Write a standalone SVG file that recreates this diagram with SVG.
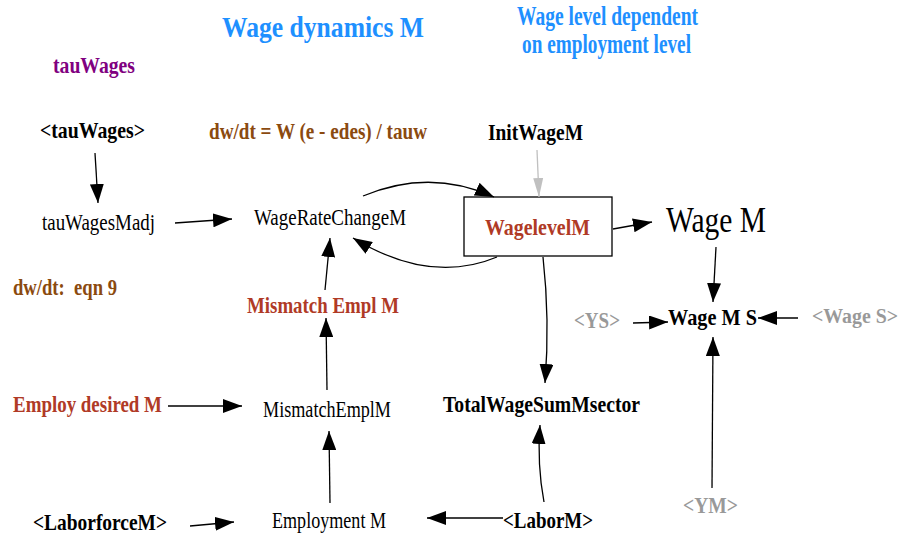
<svg xmlns="http://www.w3.org/2000/svg" width="902" height="538" viewBox="0 0 902 538">
<defs>
<marker id="ah" markerUnits="userSpaceOnUse" markerWidth="20" markerHeight="14" refX="19" refY="7" orient="auto"><path d="M0,0 L19,7 L0,14 z" fill="#000"/></marker>
<marker id="ahg" markerUnits="userSpaceOnUse" markerWidth="20" markerHeight="14" refX="19" refY="7" orient="auto"><path d="M0,2 L19,7 L0,12 z" fill="#c0c0c0"/></marker>
<style>
text{font-family:"Liberation Serif","Times New Roman",serif;}
.b{font-weight:bold;font-size:24px;}
.n{font-size:24px;fill:#000;}
.s{font-size:23px;}
.blue{fill:#1e90ff;}
.red{fill:#b03a26;}
.brown{fill:#8b4a0f;}
.gray{fill:#999999;}
.purple{fill:#800080;}
.blk{fill:#000;}
.c{fill:none;stroke:#000;stroke-width:1.3;marker-end:url(#ah);}
.cg{fill:none;stroke:#c0c0c0;stroke-width:1.3;marker-end:url(#ahg);}
</style>
</defs>
<rect width="902" height="538" fill="#fff"/>
<g id="title"><text x="222" y="37" class="b blue" style="font-size:29px" textLength="202" lengthAdjust="spacingAndGlyphs">Wage dynamics M</text></g>
<g id="note-dependent">
<text x="517" y="25" class="b blue" style="font-size:27px" textLength="181" lengthAdjust="spacingAndGlyphs">Wage level dependent</text>
<text x="522" y="53" class="b blue" style="font-size:27px" textLength="169" lengthAdjust="spacingAndGlyphs">on employment level</text>
</g>
<g id="tauWages-label"><text x="53" y="73" class="b purple" textLength="82" lengthAdjust="spacingAndGlyphs">tauWages</text></g>
<g id="eq1"><text x="209" y="139" class="b s brown" textLength="218" lengthAdjust="spacingAndGlyphs">dw/dt = W (e - edes) / tauw</text></g>
<g id="eq2"><text x="13" y="295" class="b s brown" textLength="104" lengthAdjust="spacingAndGlyphs" xml:space="preserve">dw/dt:  eqn 9</text></g>
<g id="tauWages"><text x="40" y="138" class="b s blk" textLength="105" lengthAdjust="spacingAndGlyphs">&lt;tauWages&gt;</text></g>
<g id="tauWagesMadj"><text x="42" y="230" class="n s" textLength="113" lengthAdjust="spacingAndGlyphs">tauWagesMadj</text></g>
<g id="WageRateChangeM"><text x="254" y="225" class="n" textLength="152" lengthAdjust="spacingAndGlyphs">WageRateChangeM</text></g>
<g id="InitWageM"><text x="488" y="140" class="b blk" textLength="95" lengthAdjust="spacingAndGlyphs">InitWageM</text></g>
<g id="WagelevelM">
<rect x="464" y="197" width="148" height="59" fill="#fff" stroke="#000" stroke-width="1.3"/>
<text x="485" y="235" class="b red" textLength="105" lengthAdjust="spacingAndGlyphs">WagelevelM</text>
</g>
<g id="WageM"><text x="666" y="232" style="font-size:36px" fill="#000" textLength="100" lengthAdjust="spacingAndGlyphs">Wage M</text></g>
<g id="WageMS"><text x="668" y="325" class="b blk" textLength="89" lengthAdjust="spacingAndGlyphs">Wage M S</text></g>
<g id="YS"><text x="574" y="328" class="b gray" textLength="46" lengthAdjust="spacingAndGlyphs">&lt;YS&gt;</text></g>
<g id="WageS"><text x="812" y="323" class="b gray" style="font-size:20px" textLength="86" lengthAdjust="spacingAndGlyphs">&lt;Wage S&gt;</text></g>
<g id="YM"><text x="683" y="513" class="b gray" textLength="55" lengthAdjust="spacingAndGlyphs">&lt;YM&gt;</text></g>
<g id="MismatchEmplM-label"><text x="247" y="313" class="b red" textLength="152" lengthAdjust="spacingAndGlyphs">Mismatch Empl M</text></g>
<g id="MismatchEmplM"><text x="263" y="417" class="n" textLength="128" lengthAdjust="spacingAndGlyphs">MismatchEmplM</text></g>
<g id="EmployDesiredM"><text x="13" y="412" class="b red" textLength="149" lengthAdjust="spacingAndGlyphs">Employ desired M</text></g>
<g id="TotalWageSumMsector"><text x="443" y="412" class="b blk" textLength="197" lengthAdjust="spacingAndGlyphs">TotalWageSumMsector</text></g>
<g id="LaborforceM"><text x="33" y="530" class="b blk" textLength="134" lengthAdjust="spacingAndGlyphs">&lt;LaborforceM&gt;</text></g>
<g id="EmploymentM"><text x="272" y="528" class="n" textLength="114" lengthAdjust="spacingAndGlyphs">Employment M</text></g>
<g id="LaborM"><text x="503" y="528" class="b blk" textLength="90" lengthAdjust="spacingAndGlyphs">&lt;LaborM&gt;</text></g>
<g id="connectors">
<path class="c" d="M95,153 L98,203"/>
<path class="c" d="M175,223 L232,219"/>
<path class="c" d="M363,196 Q430,168 494,197"/>
<path class="c" d="M497,257 Q430,285 353,238"/>
<path class="cg" d="M537,150 L539,197"/>
<path class="c" d="M613,229 L652,222"/>
<path class="c" d="M716,247 L713,302"/>
<path class="c" d="M633,323 L668,322"/>
<path class="c" d="M798,318 L758,318"/>
<path class="c" d="M712,488 L713,337"/>
<path class="c" d="M543,257 Q550,320 545,383"/>
<path class="c" d="M544,502 Q537,465 540,425"/>
<path class="c" d="M325,290 L330,238"/>
<path class="c" d="M327,390 L326,318"/>
<path class="c" d="M168,406 L242,406"/>
<path class="c" d="M330,503 L329,431"/>
<path class="c" d="M190,526 L234,522"/>
<path class="c" d="M503,518 L427,518"/>
</g>
</svg>
